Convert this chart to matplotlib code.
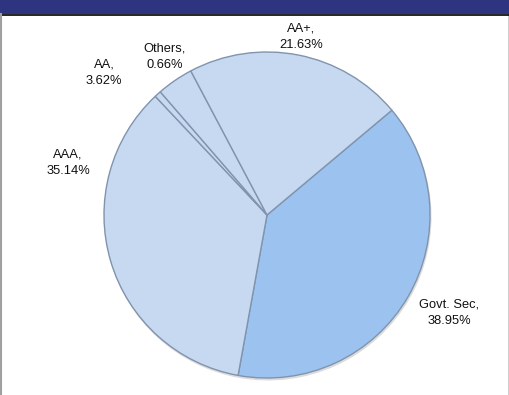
import matplotlib
matplotlib.use("Agg")
import matplotlib.pyplot as plt
from matplotlib.patches import Rectangle

plt.rcParams['font.family'] = ['Liberation Sans', 'DejaVu Sans']

# Data (clockwise order as drawn)
categories = ["Govt. Sec", "AAA", "Others", "AA", "AA+"]
values = [38.95, 35.14, 0.66, 3.62, 21.63]
colors = ["#9cc2f0", "#c6d9f1", "#c6d9f1", "#c6d9f1", "#c6d9f1"]

W, H = 510, 395
fig = plt.figure(figsize=(W / 100, H / 100), dpi=100)
ax = fig.add_axes([0, 0, 1, 1])

cx, cy, r = 267, H - 215, 163

# soft shadow
ax.pie(values, startangle=40, counterclock=False, center=(cx + 1, cy - 2),
       radius=r + 0.5, colors=["#dcdcdc"] * len(values),
       wedgeprops=dict(linewidth=0), frame=True)
wedges, _ = ax.pie(values, startangle=40, counterclock=False, center=(cx, cy),
                   radius=r, colors=colors,
                   wedgeprops=dict(linewidth=1.0, edgecolor="#8094ad"), frame=True)
ax.set_xlim(0, W)
ax.set_ylim(0, H)
ax.set_aspect('equal')
ax.axis('off')

# labels (positions in pixel coords, y from top)
label_pos = {
    "Govt. Sec": (449, 313),
    "AAA": (68, 163),
    "Others": (165, 57),
    "AA": (104, 73),
    "AA+": (301, 37),
}
for cat, val in zip(categories, values):
    x, y = label_pos[cat]
    ax.text(x, H - y, f"{cat},\n{val:.2f}%", ha='center', va='center',
            fontsize=9.3, color='#111111', linespacing=1.45)

# header bar and borders
ax.add_patch(Rectangle((0, H - 14), W, 14, facecolor="#2e3480", edgecolor='none'))
ax.plot([0, W], [H - 14.5, H - 14.5], color='black', lw=1.2)
ax.plot([0.8, 0.8], [0, H - 14], color='#a0a0a0', lw=1.5)
ax.plot([W - 1, W - 1], [0, H - 14], color='black', lw=1.0)

fig.savefig("out.png", dpi=100)
